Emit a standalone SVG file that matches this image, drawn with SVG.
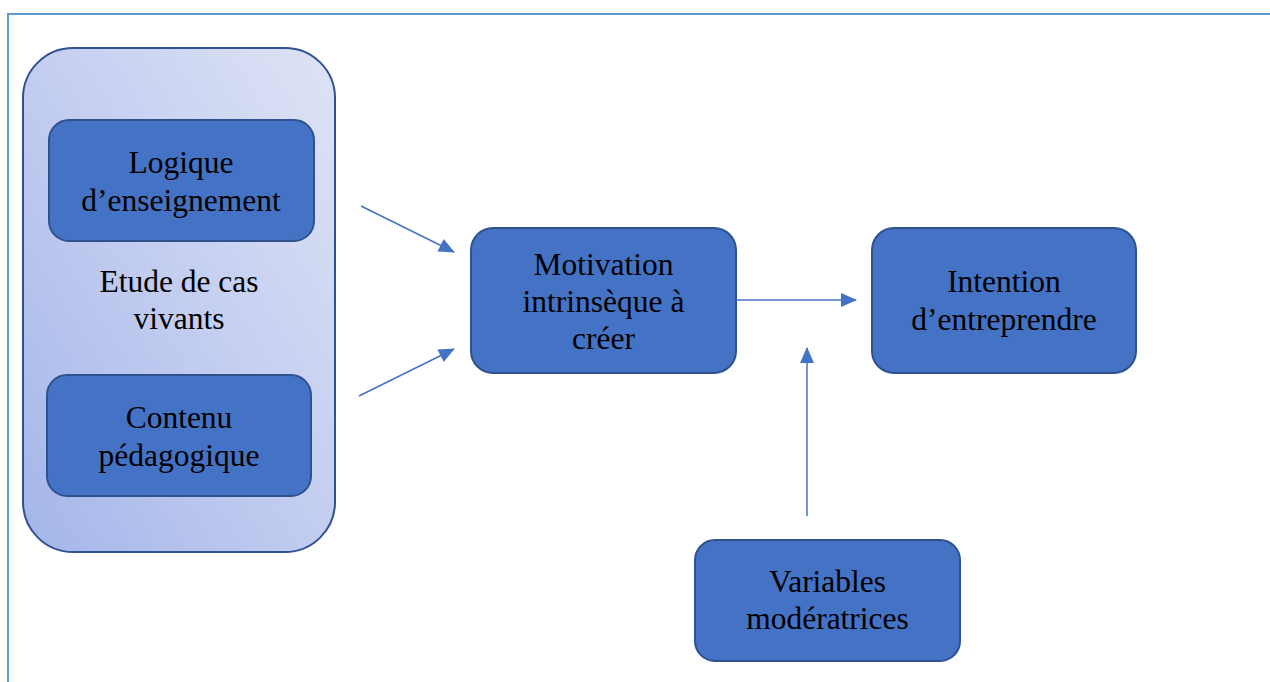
<svg xmlns="http://www.w3.org/2000/svg" width="1270" height="682" viewBox="0 0 1270 682">
  <defs>
    <linearGradient id="grpGrad" x1="0" y1="1" x2="1" y2="0">
      <stop offset="0" stop-color="#A3B5E9"/>
      <stop offset="0.5" stop-color="#C3CDF0"/>
      <stop offset="1" stop-color="#DEE3F5"/>
    </linearGradient>
    <marker id="arrow" markerUnits="userSpaceOnUse" markerWidth="16" markerHeight="14" viewBox="0 0 16 14" refX="15" refY="7" orient="auto">
      <path d="M0,0 L16,7 L0,14 Z" fill="#4472C4"/>
    </marker>
  </defs>
  <style>
    .frame { stroke: #5B9BD5; stroke-width: 2; fill: none; }
    .box { fill: #4472C4; stroke: #2F528F; stroke-width: 2; }
    .group { fill: url(#grpGrad); stroke: #2F528F; stroke-width: 2; }
    .lbl { font-family: "Liberation Serif", "Times New Roman", serif; font-size: 31.5px; fill: #000000; text-anchor: middle; }
    .conn { stroke: #4472C4; stroke-width: 1.5; fill: none; marker-end: url(#arrow); }
  </style>
  <rect width="1270" height="682" fill="#FFFFFF"/>
  <g id="frame">
    <line class="frame" x1="8" y1="14" x2="1270" y2="14"/>
    <line class="frame" x1="8" y1="13" x2="8" y2="682"/>
  </g>
  <g id="etude-de-cas">
    <rect class="group" x="23" y="48" width="312" height="504" rx="50" ry="50"/>
    <text class="lbl" x="179" y="292">Etude de cas</text>
    <text class="lbl" x="179" y="329">vivants</text>
  </g>
  <g id="logique">
    <rect class="box" x="49" y="120" width="265" height="121" rx="20" ry="20"/>
    <text class="lbl" x="181" y="173">Logique</text>
    <text class="lbl" x="181" y="211">d’enseignement</text>
  </g>
  <g id="contenu">
    <rect class="box" x="47" y="375" width="264" height="121" rx="20" ry="20"/>
    <text class="lbl" x="179" y="428">Contenu</text>
    <text class="lbl" x="179" y="466">pédagogique</text>
  </g>
  <g id="motivation">
    <rect class="box" x="471" y="228" width="265" height="145" rx="22" ry="22"/>
    <text class="lbl" x="603.5" y="275">Motivation</text>
    <text class="lbl" x="603.5" y="312">intrinsèque à</text>
    <text class="lbl" x="603.5" y="349">créer</text>
  </g>
  <g id="intention">
    <rect class="box" x="872" y="228" width="264" height="145" rx="22" ry="22"/>
    <text class="lbl" x="1004" y="292">Intention</text>
    <text class="lbl" x="1004" y="330">d’entreprendre</text>
  </g>
  <g id="variables">
    <rect class="box" x="695" y="540" width="265" height="121" rx="20" ry="20"/>
    <text class="lbl" x="827.5" y="592">Variables</text>
    <text class="lbl" x="827.5" y="629">modératrices</text>
  </g>
  <g id="connectors">
    <line class="conn" x1="361" y1="206" x2="454" y2="252"/>
    <line class="conn" x1="359" y1="396" x2="454" y2="349"/>
    <line class="conn" x1="736" y1="300" x2="856" y2="300"/>
    <line class="conn" x1="807" y1="516" x2="807" y2="348"/>
  </g>
</svg>
